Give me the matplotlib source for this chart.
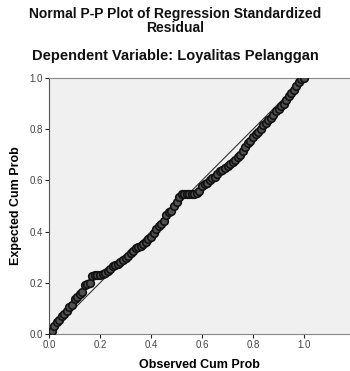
import matplotlib
matplotlib.use("Agg")
import matplotlib.pyplot as plt

observed = [0.01, 0.02, 0.03, 0.04, 0.05, 0.06, 0.07, 0.08, 0.09, 0.10,
            0.11, 0.12, 0.13, 0.14, 0.15, 0.16, 0.17, 0.18, 0.19, 0.20,
            0.21, 0.22, 0.23, 0.24, 0.25, 0.26, 0.27, 0.28, 0.29, 0.30,
            0.31, 0.32, 0.33, 0.34, 0.35, 0.36, 0.37, 0.38, 0.39, 0.40,
            0.41, 0.42, 0.43, 0.44, 0.45, 0.46, 0.47, 0.48, 0.49, 0.50,
            0.51, 0.52, 0.53, 0.54, 0.55, 0.56, 0.57, 0.58, 0.59, 0.60,
            0.61, 0.62, 0.63, 0.64, 0.65, 0.66, 0.67, 0.68, 0.69, 0.70,
            0.71, 0.72, 0.73, 0.74, 0.75, 0.76, 0.77, 0.78, 0.79, 0.80,
            0.81, 0.82, 0.83, 0.84, 0.85, 0.86, 0.87, 0.88, 0.89, 0.90,
            0.91, 0.92, 0.93, 0.94, 0.95, 0.96, 0.97, 0.98, 0.99, 1.00]
expected = [0.01, 0.03, 0.045, 0.055, 0.07, 0.08, 0.09, 0.105, 0.115, 0.135,
            0.145, 0.155, 0.165, 0.19, 0.195, 0.20, 0.225, 0.23, 0.232, 0.232,
            0.235, 0.24, 0.245, 0.255, 0.265, 0.27, 0.275, 0.28, 0.29, 0.295,
            0.305, 0.315, 0.325, 0.335, 0.34, 0.345, 0.35, 0.36, 0.37, 0.38,
            0.395, 0.41, 0.42, 0.43, 0.44, 0.465, 0.475, 0.48, 0.50, 0.515,
            0.535, 0.545, 0.545, 0.545, 0.545, 0.545, 0.545, 0.55, 0.56, 0.58,
            0.585, 0.59, 0.60, 0.61, 0.615, 0.625, 0.635, 0.64, 0.65, 0.655,
            0.665, 0.67, 0.68, 0.69, 0.70, 0.715, 0.73, 0.745, 0.755, 0.77,
            0.78, 0.79, 0.80, 0.815, 0.825, 0.835, 0.845, 0.855, 0.87, 0.88,
            0.89, 0.90, 0.915, 0.93, 0.94, 0.955, 0.97, 0.985, 0.995, 1.0]
ticks = [0.0, 0.2, 0.4, 0.6, 0.8, 1.0]
tick_labels = ["0.0", "0.2", "0.4", "0.6", "0.8", "1.0"]

plt.rcParams['font.family'] = ['Liberation Sans', 'DejaVu Sans']

fig = plt.figure(figsize=(3.5, 3.71), dpi=100)
ax = fig.add_axes([49/350, 1 - 334/371, (350 - 49)/350, (334 - 78)/371])
ax.set_facecolor('#f0f0f0')

ax.plot([0, 1], [0, 1], color='#333333', lw=0.8, zorder=2)
ax.scatter(observed, expected, s=30, facecolor='#505050', edgecolor='#111111',
           linewidths=1.2, zorder=3)

ax.set_xlim(0, 301/255)
ax.set_ylim(0, 1.0)
ax.set_xticks(ticks)
ax.set_xticklabels(tick_labels)
ax.set_yticks(ticks)
ax.set_yticklabels(tick_labels)
ax.tick_params(axis='both', labelsize=7, colors='#222222', labelcolor='#444444',
               length=3, width=0.8, direction='out', pad=1.5)

ax.spines['right'].set_visible(False)
ax.spines['left'].set_color('#555555')
ax.spines['bottom'].set_color('#888888')
ax.spines['top'].set_color('#888888')

ax.set_xlabel('Observed Cum Prob', fontsize=9, fontweight='bold', labelpad=6)
ax.set_ylabel('Expected Cum Prob', fontsize=9, fontweight='bold', labelpad=5)

fig.text(0.5, 1 - 21/371, 'Normal P-P Plot of Regression Standardized\nResidual',
         ha='center', va='center', fontsize=10, fontweight='bold',
         linespacing=0.95, color='#111111')
fig.text(0.5, 1 - 56/371, 'Dependent Variable: Loyalitas Pelanggan',
         ha='center', va='center', fontsize=10.5, fontweight='bold',
         color='#111111')

fig.savefig('out.png', dpi=100)
